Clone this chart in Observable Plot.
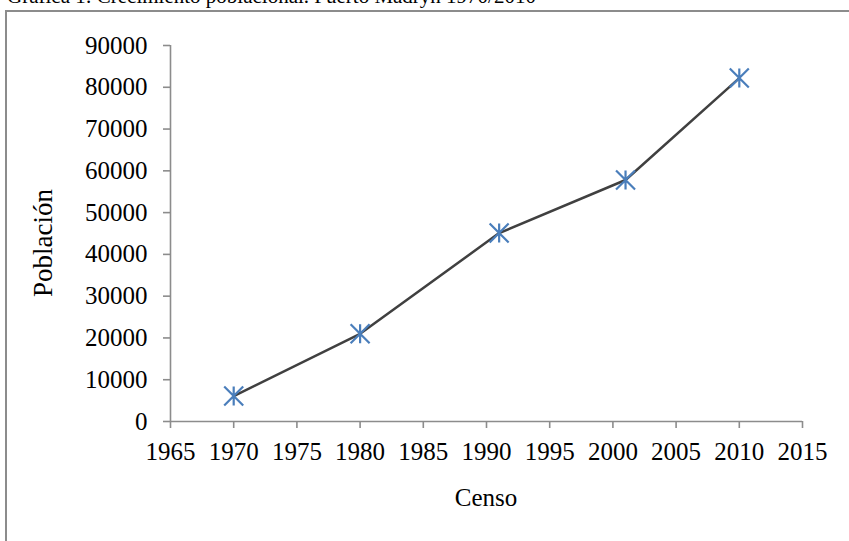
<!DOCTYPE html>
<html>
<head>
<meta charset="utf-8">
<script src="https://cdn.jsdelivr.net/npm/d3@7"></script>
<script src="https://cdn.jsdelivr.net/npm/@observablehq/plot@0.6"></script>
<style>
  html { overflow: hidden; }
  html, body { margin: 0; padding: 0; background: #fff; width: 849px; height: 541px; }
  body { position: relative; overflow: hidden; font-family: "Liberation Serif", "Times New Roman", serif; }
  #title { position: absolute; left: 7px; top: -14px; font-size: 21px; line-height: 1; white-space: nowrap; color: #000; }
  #frame { position: absolute; left: 5px; top: 10px; width: 1400px; height: 1200px; border-left: 2px solid #8c8c8c; border-top: 2px solid #8c8c8c; box-sizing: border-box; }
  #chart { position: absolute; left: 0; top: 0; }
  #ylab { position: absolute; left: 43px; top: 243px; transform: translate(-50%, -50%) rotate(-90deg); font-size: 27px; white-space: nowrap; line-height: 1; }
  #xlab { position: absolute; left: 486px; top: 497px; transform: translate(-50%, -50%); font-size: 25px; white-space: nowrap; line-height: 1; }
  #chart svg { background: transparent !important; }
  #chart svg [aria-label$="axis"] line,
  #chart svg [aria-label$="axis"] path,
  #chart svg [aria-label$="axis tick"] path,
  #chart svg [aria-label$="axis tick"] line { stroke: #8c8c8c; stroke-width: 1.6; }
</style>
</head>
<body>
<div id="frame"></div>
<div id="title">Gráfica 1: Crecimiento poblacional. Puerto Madryn 1970/2010</div>
<div id="chart"></div>
<div id="ylab">Población</div>
<div id="xlab">Censo</div>
<script>
const years = [1970, 1980, 1991, 2001, 2010];
const population = [6100, 21000, 45100, 57800, 82200];
const xTicks = [1965, 1970, 1975, 1980, 1985, 1990, 1995, 2000, 2005, 2010, 2015];
const yTicks = [0, 10000, 20000, 30000, 40000, 50000, 60000, 70000, 80000, 90000];

const data = years.map((y, i) => ({year: y, pop: population[i]}));

const star = {
  draw(context, size) {
    const h = Math.sqrt(size / Math.PI);
    context.moveTo(0, -h); context.lineTo(0, h);
    context.moveTo(-h, -h); context.lineTo(h, h);
    context.moveTo(-h, h); context.lineTo(h, -h);
  }
};

const chart = Plot.plot({
  width: 849,
  height: 541,
  marginLeft: 170,
  marginRight: 47,
  marginTop: 45,
  marginBottom: 120,
  style: {background: "transparent", fontFamily: "'Liberation Serif', 'Times New Roman', serif", fontSize: "25px", color: "#000"},
  x: {domain: [1965, 2015], ticks: xTicks, tickFormat: d => String(d), tickSize: 7, tickPadding: 14, label: null},
  y: {domain: [0, 90000], ticks: yTicks, tickFormat: d => String(d), tickSize: 7, tickPadding: 16, label: null},
  marks: [
    Plot.ruleY([0], {stroke: "#8c8c8c", strokeWidth: 1.6}),
    Plot.ruleX([1965], {stroke: "#8c8c8c", strokeWidth: 1.6}),
    Plot.line(data, {x: "year", y: "pop", stroke: "#404040", strokeWidth: 2.5}),
    Plot.dot(data, {x: "year", y: "pop", symbol: star, r: 9.5, fill: "none", stroke: "#4a7ebb", strokeWidth: 2.2})
  ]
});
document.getElementById("chart").appendChild(chart);
</script>
</body>
</html>
